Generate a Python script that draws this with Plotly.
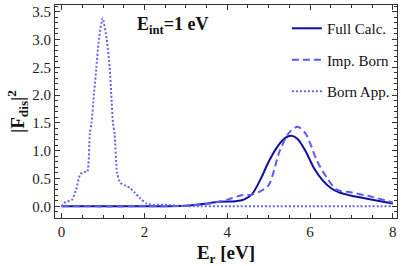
import plotly.graph_objects as go

# Born approximation (dotted)
born_x = [0, 0.1, 0.25, 0.35, 0.45, 0.55, 0.62, 0.68, 0.72, 0.78, 0.84, 0.9, 0.99, 1.09, 1.16, 1.2, 1.24, 1.28,
          1.34, 1.42, 1.55, 1.65, 1.75, 1.9, 2.05, 2.2, 2.5, 2.8, 3.2, 4.0, 5.0, 6.0, 7.0, 8.0]
born_y = [0, 0.08, 0.12, 0.3, 0.58, 0.62, 0.62, 1.3, 1.5, 2.0, 2.5, 3.0, 3.38, 3.0, 2.5, 2.0, 1.5, 1.3,
          0.6, 0.42, 0.37, 0.33, 0.26, 0.14, 0.05, 0.03, 0.03, 0.01, 0.0, 0.0, 0.0, 0.0, 0.0, 0.0]

# Full calculation (solid)
full_x = [0, 1, 2, 3, 3.4, 3.8, 4.2, 4.4, 4.6, 4.8, 5.0, 5.2, 5.4, 5.55, 5.7, 5.9, 6.1, 6.3, 6.5, 6.7,
          7.0, 7.5, 8.0]
full_y = [0, 0, 0, 0.01, 0.04, 0.08, 0.09, 0.12, 0.22, 0.48, 0.8, 1.06, 1.23, 1.27, 1.21, 0.98, 0.68, 0.47,
          0.33, 0.25, 0.19, 0.12, 0.05]

# Improved Born (dashed)
imp_x = [0, 2, 3, 3.5, 4.0, 4.35, 4.6, 4.8, 5.0, 5.27, 5.5, 5.7, 5.9, 6.16, 6.4, 6.64, 7.0, 7.5, 8.0]
imp_y = [0, 0, 0.01, 0.04, 0.12, 0.2, 0.21, 0.27, 0.38, 1.0, 1.33, 1.43, 1.3, 0.83, 0.52, 0.3, 0.25,
         0.17, 0.07]

x_ticks = [0, 2, 4, 6, 8]
y_ticks = [0.0, 0.5, 1.0, 1.5, 2.0, 2.5, 3.0, 3.5]

FONT = "Liberation Serif"

fig = go.Figure()
fig.add_trace(go.Scatter(x=full_x, y=full_y, mode="lines", name="Full Calc.", legendgroup="a",
                         line=dict(color="#10109c", width=2, shape="spline", smoothing=0.8)))
fig.add_trace(go.Scatter(x=imp_x, y=imp_y, mode="lines", name="Imp. Born", legendgroup="b",
                         line=dict(color="#5a5aff", width=2, dash="7px,4px", shape="spline", smoothing=0.8)))
fig.add_trace(go.Scatter(x=born_x, y=born_y, mode="lines", name="Born App.", legendgroup="c",
                         line=dict(color="#6464f0", width=2, dash="2px,2px", shape="spline", smoothing=0.6)))

axis_common = dict(
    showline=True, linecolor="#333333", linewidth=1, mirror="allticks",
    ticks="inside", ticklen=5, tickcolor="#333333", showgrid=False, zeroline=False,
    tickfont=dict(family=FONT, size=15, color="#222222"), automargin=False,
)

fig.update_xaxes(range=[-0.16, 8.1], tickvals=x_ticks, ticktext=[str(v) for v in x_ticks],
                 minor=dict(dtick=0.5, tick0=0, ticklen=3, ticks="inside", tickcolor="#333333"),
                 title=dict(text="<b>E<sub>r</sub> [eV]</b>", font=dict(family=FONT, size=19, color="#111111"),
                            standoff=19),
                 **axis_common)
fig.update_yaxes(range=[-0.21, 3.62], tickvals=y_ticks, ticktext=[f"{v:.1f}" for v in y_ticks],
                 minor=dict(dtick=0.1, tick0=0, ticklen=3, ticks="inside", tickcolor="#333333"),
                 title=dict(text="<b>|F<sub>dis</sub>|<sup>2</sup></b>", font=dict(family=FONT, size=19, color="#111111"),
                            standoff=2),
                 **axis_common)

fig.add_annotation(text="<b>E<sub>int</sub>=1 eV</b>", xref="paper", yref="paper", x=0.234, y=0.906,
                   xanchor="left", yanchor="middle", showarrow=False,
                   font=dict(family=FONT, size=18, color="#111111"))

fig.update_layout(
    width=401, height=266,
    margin=dict(l=55, r=4, t=5, b=48),
    paper_bgcolor="white", plot_bgcolor="white",
    legend=dict(x=0.678, y=0.967, xanchor="left", yanchor="top", tracegroupgap=9,
                bgcolor="rgba(0,0,0,0)", font=dict(family=FONT, size=15, color="#111111")),
)

fig.write_html("out.html", config={"displayModeBar": False},
               post_script="document.body.style.margin='0';")
